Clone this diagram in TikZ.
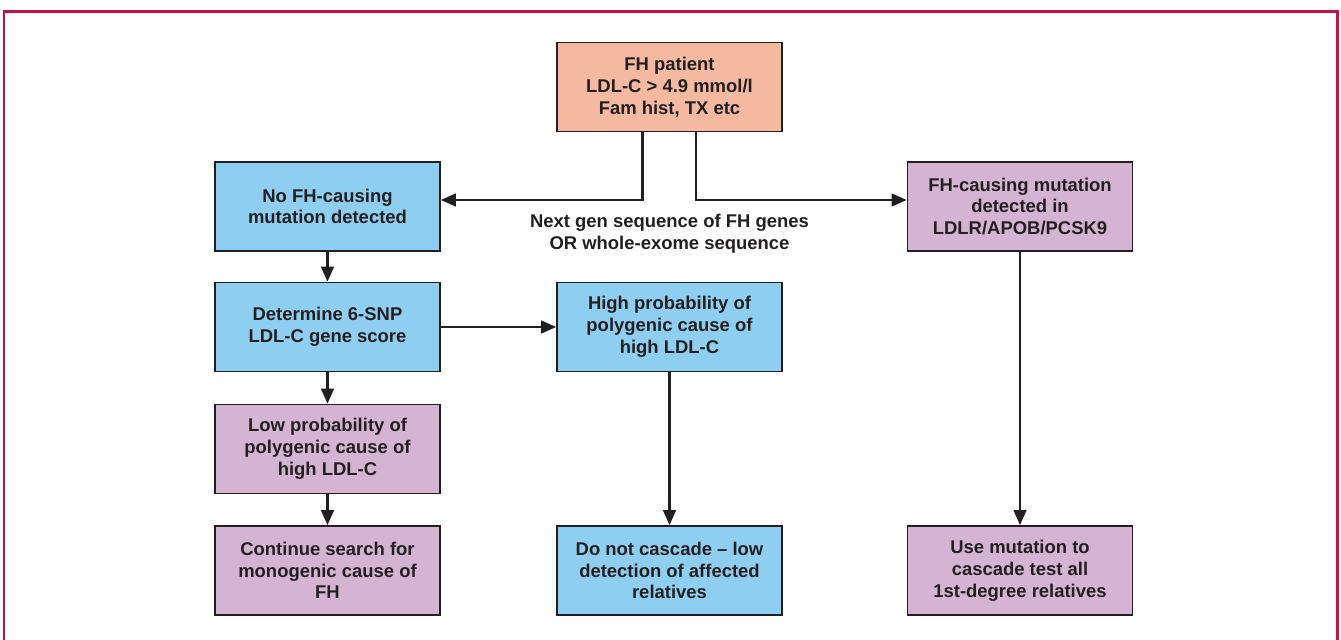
\documentclass[tikz,border=0pt]{standalone}
\usepackage{fontspec}
\setmainfont{Liberation Sans}
\usetikzlibrary{positioning,calc,arrows.meta}
\definecolor{FrameRed}{RGB}{200,16,70}
\definecolor{InkGray}{RGB}{35,31,32}
\definecolor{PatientOrange}{RGB}{244,185,160}
\definecolor{PolyBlue}{RGB}{142,206,240}
\definecolor{MonoPurple}{RGB}{213,180,211}

\begin{document}
\begin{tikzpicture}[
    font=\fontsize{10.5}{12.4}\selectfont\bfseries,
    >={Triangle[length=3mm,width=2.5mm]},
    box/.style={draw=InkGray, line width=0.9pt, align=center, text=InkGray, minimum width=4.5cm, minimum height=1.78cm, inner sep=2pt},
    arrow/.style={->, line width=1.5pt, draw=InkGray}
]
\useasboundingbox (0,0) rectangle (26.82,-12.8);
\draw[FrameRed, line width=1.7pt] (0.08,-12.8) -- (0.08,-0.24) -- (26.74,-0.24) -- (26.74,-12.8);
\node[box, fill=PatientOrange] (patient) at (13.39,-1.74) {FH patient\\LDL-C > 4.9 mmol/l\\Fam hist, TX etc};
\node[box, fill=PolyBlue] (nomut) at (6.55,-4.13) {No FH-causing\\mutation detected};
\node[box, fill=MonoPurple] (mut) at (20.40,-4.13) {FH-causing mutation\\detected in\\LDLR/APOB/PCSK9};
\node[box, fill=PolyBlue] (score) at (6.55,-6.54) {Determine 6-SNP\\LDL-C gene score};
\node[box, fill=PolyBlue] (highprob) at (13.39,-6.54) {High probability of\\polygenic cause of\\high LDL-C};
\node[box, fill=MonoPurple] (lowprob) at (6.55,-8.98) {Low probability of\\polygenic cause of\\high LDL-C};
\node[box, fill=MonoPurple] (search) at (6.55,-11.41) {Continue search for\\monogenic cause of\\FH};
\node[box, fill=PolyBlue] (nocascade) at (13.39,-11.41) {Do not cascade -- low\\detection of affected\\relatives};
\node[box, fill=MonoPurple] (cascade) at (20.40,-11.41) {Use mutation to\\cascade test all\\1st-degree relatives};
\node[text=InkGray, align=center] (seqlabel) at (13.39,-4.68) {Next gen sequence of FH genes\\OR whole-exome sequence};
\coordinate (splitL) at ([xshift=-0.54cm]patient.south);
\coordinate (splitR) at ([xshift=0.53cm]patient.south);
\draw[arrow] (splitL) |- ([yshift=0.13cm]nomut.east);
\draw[arrow] (splitR) |- ([yshift=0.13cm]mut.west);
\draw[arrow] (nomut) -- (score);
\draw[arrow] (score) -- (highprob);
\draw[arrow] (score) -- (lowprob);
\draw[arrow] (lowprob) -- (search);
\draw[arrow] (highprob) -- (nocascade);
\draw[arrow] (mut) -- (cascade);
\end{tikzpicture}
\end{document}
